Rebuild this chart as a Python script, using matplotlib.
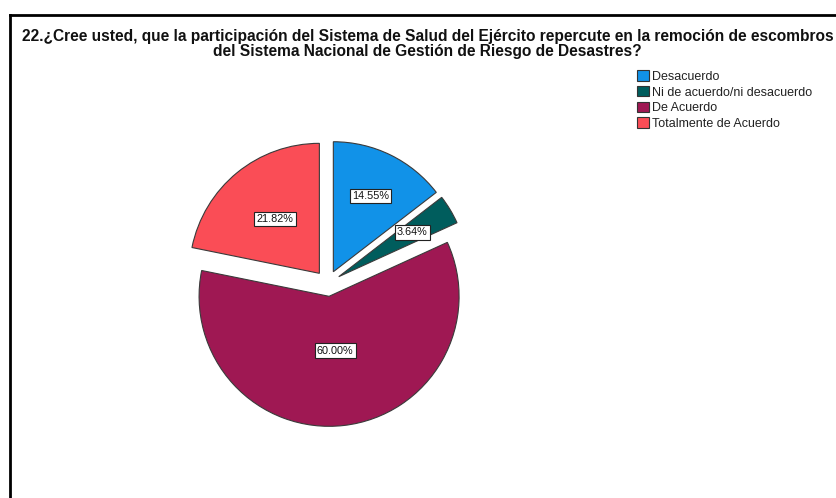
import numpy as np
import matplotlib
matplotlib.use("Agg")
import matplotlib.pyplot as plt
from matplotlib.lines import Line2D
from matplotlib.patches import Patch

plt.rcParams["font.family"] = ["Liberation Sans", "DejaVu Sans"]

TITLE_LINES = ["22.¿Cree usted, que la participación del Sistema de Salud del Ejército repercute en la remoción de escombros",
               "del Sistema Nacional de Gestión de Riesgo de Desastres?"]
categories = ["Desacuerdo", "Ni de acuerdo/ni desacuerdo", "De Acuerdo", "Totalmente de Acuerdo"]
percentages = [14.55, 3.64, 60.00, 21.82]
colors = ["#1192e8", "#005d5d", "#9f1853", "#fa4d56"]

W, H = 837, 498
fig = plt.figure(figsize=(W / 100, H / 100), dpi=100)

# pie axes: 338 px square, centre at (327.6, 283.4) px from top-left
ax = fig.add_axes([158.6 / W, 45.6 / H, 338 / W, 338 / H])
explode = [0.1] * len(percentages)
wedges, _ = ax.pie(percentages, colors=colors, explode=explode, startangle=90,
                   counterclock=False, radius=1.0,
                   wedgeprops=dict(edgecolor="#3a3a3a", linewidth=0.8))
ax.set_xlim(-1.3, 1.3)
ax.set_ylim(-1.3, 1.3)
ax.set_aspect("auto")
ax.axis("off")

# label distance from the exploded wedge tip, fraction of radius
label_dist = [0.65, 0.66, 0.42, 0.54]
for w, pct, d, ex in zip(wedges, percentages, label_dist, explode):
    thm = np.deg2rad((w.theta1 + w.theta2) / 2)
    r = ex + d
    ax.text(r * np.cos(thm), r * np.sin(thm), f"{pct:.2f}%", ha="center", va="center",
            fontsize=7.8, color="#111111",
            bbox=dict(boxstyle="square,pad=0.2", facecolor="white", edgecolor="#222222", linewidth=0.8))

# title, two centred lines
for line, base in zip(TITLE_LINES, [41.5, 55.5]):
    fig.text(427.5 / W, 1 - base / H, line, ha="center", va="baseline",
             fontsize=11.2, fontweight="bold", color="#111111")

handles = [Patch(facecolor=c, edgecolor="#333333", linewidth=0.8) for c in colors]
fig.legend(handles, categories, loc="upper left", bbox_to_anchor=(636 / W, 1 - 69 / H),
           frameon=False, fontsize=9, handlelength=0.95, handleheight=0.9,
           handletextpad=0.25, labelspacing=0.26, borderpad=0.1, borderaxespad=0,
           labelcolor="#222222")

# chart frame (only top and left edges visible)
fig.add_artist(Line2D([10 / W, 1.0], [1 - 15 / H, 1 - 15 / H], transform=fig.transFigure,
                      color="black", linewidth=2))
fig.add_artist(Line2D([10 / W, 10 / W], [0, 1 - 15 / H], transform=fig.transFigure,
                      color="black", linewidth=2))

fig.savefig("out.png", dpi=100)
